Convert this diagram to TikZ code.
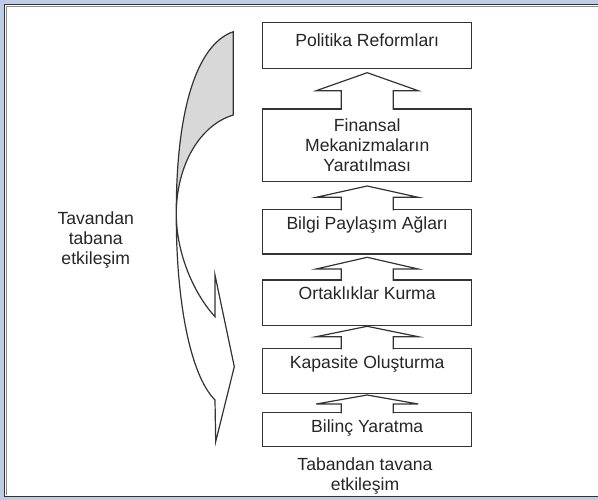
\documentclass[tikz,border=0pt]{standalone}
\usepackage{fontspec}
\setmainfont{Liberation Sans}
\usepackage{tikz}
\usetikzlibrary{calc}
\definecolor{framebg}{RGB}{190,205,229}
\definecolor{ribbongray}{RGB}{216,216,216}

\begin{document}
\begin{tikzpicture}[x=1pt,y=-1pt,
box/.style={rectangle,draw=black!80,line width=1.2pt,fill=white,minimum width=209pt,inner sep=0pt,outer sep=0pt,anchor=north,text=black!85,font=\fontsize{17.6}{20}\selectfont},
uparrow/.style={draw=black!80,line width=1.2pt,fill=white,line join=miter},
txt/.style={align=center,text=black!85,font=\fontsize{17.6}{20}\selectfont}]
\useasboundingbox (0,0) rectangle (598,500);
\fill[framebg] (0,0) rectangle (598,500);
\fill[white] (4.5,4.5) rectangle (598,496.5);
\draw[black!45,line width=1.5pt] (598,6.5) -- (6.5,6.5) -- (6.5,494.5);
\draw[black!80,line width=1.2pt] (598,4.5) -- (4.5,4.5) -- (4.5,496.5) -- (598,496.5);

\node at (367.2,22.7)[box,minimum height=45.6pt,text height=23.6pt,text depth=22pt](b6){Politika Reformları};
\node at (367.2,109)[box,minimum height=72.7pt,align=center](b5){Finansal\\Mekanizmaların\\Yaratılması};
\node at (367.2,209.3)[box,minimum height=44.7pt,text height=20.3pt,text depth=24.4pt](b4){Bilgi Paylaşım Ağları};
\node at (367.2,280)[box,minimum height=45.7pt,text height=19.6pt,text depth=26.1pt](b3){Ortaklıklar Kurma};
\node at (367.2,348.3)[box,minimum height=45pt,text height=19.7pt,text depth=25.3pt](b2){Kapasite Oluşturma};
\node at (367.2,412.3)[box,minimum height=34.4pt,text height=20pt,text depth=14.4pt](b1){Bilinç Yaratma};

\filldraw[uparrow] ($(b5.north)+(-26,1)$) -- ($(b5.north)+(-26,-18.3)$) -- ($(b5.north)+(-51,-18.3)$) -- ($(b6.south)+(0,4.4)$) -- ($(b5.north)+(51,-18.3)$) -- ($(b5.north)+(26,-18.3)$) -- ($(b5.north)+(26,1)$);
\filldraw[uparrow] ($(b4.north)+(-26,1)$) -- ($(b4.north)+(-26,-12)$) -- ($(b4.north)+(-51,-12)$) -- ($(b5.south)+(0,4.3)$) -- ($(b4.north)+(51,-12)$) -- ($(b4.north)+(26,-12)$) -- ($(b4.north)+(26,1)$);
\filldraw[uparrow] ($(b3.north)+(-26,1)$) -- ($(b3.north)+(-26,-11)$) -- ($(b3.north)+(-51,-11)$) -- ($(b4.south)+(0,3.3)$) -- ($(b3.north)+(51,-11)$) -- ($(b3.north)+(26,-11)$) -- ($(b3.north)+(26,1)$);
\filldraw[uparrow] ($(b2.north)+(-26,1)$) -- ($(b2.north)+(-26,-11.6)$) -- ($(b2.north)+(-51,-11.6)$) -- ($(b3.south)+(0,0.6)$) -- ($(b2.north)+(51,-11.6)$) -- ($(b2.north)+(26,-11.6)$) -- ($(b2.north)+(26,1)$);
\filldraw[uparrow] ($(b1.north)+(-26,1)$) -- ($(b1.north)+(-26,-8.3)$) -- ($(b1.north)+(-51,-8.3)$) -- ($(b2.south)+(0,1.7)$) -- ($(b1.north)+(51,-8.3)$) -- ($(b1.north)+(26,-8.3)$) -- ($(b1.north)+(26,1)$);

\node at (365,475.5)[txt](bottomup){Tabandan tavana\\etkileşim};
\node at (95.7,239.7)[txt](topdown){Tavandan\\tabana\\etkileşim};

% ribbon arrow
\fill[ribbongray] (233.3,31.7) .. controls (195,45) and (176,115) .. (176.3,214) .. controls (176.3,165) and (200,125) .. (233.3,115) -- cycle;
\draw[black!80,line width=1.2pt,line join=miter] (233.3,31.7) .. controls (195,45) and (176,115) .. (176.3,214) .. controls (176,300) and (190,375) .. (215,400) -- (215.7,441.7) -- (234.3,366.7) -- (215,275) -- (215,316.7) .. controls (195,295) and (176.3,255) .. (176.3,214) .. controls (176.3,165) and (200,125) .. (233.3,115) -- cycle;
\end{tikzpicture}
\end{document}
